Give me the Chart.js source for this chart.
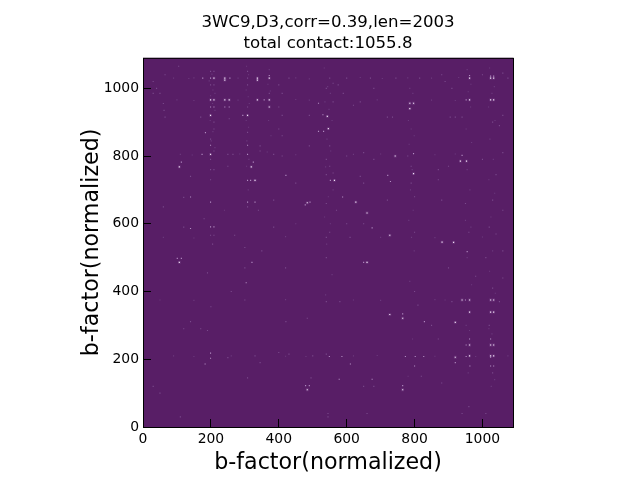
<!DOCTYPE html>
<html lang="en">
<head>
<meta charset="UTF-8">
<title>3WC9 contact map</title>
<style>
  body { margin: 0; background: #fff; }
  canvas { display: block; }
</style>
</head>
<body>
<canvas id="chart" width="640" height="480"></canvas>
<script src="https://cdn.jsdelivr.net/npm/chart.js"></script>
<script>
// cells, [x, y] in residue index, split by brightness
const brightCells = [
  [209,1030],[241,1030],[241,1024],[337,1030],[337,1024],[372,1030],[209,966],[199,966],[241,966],[254,966],
  [337,966],[372,966],[372,945],[199,920],[308,920],[543,917],[546,881],[199,805],[107,768],[319,768],[330,728],
  [484,662],[962,1030],[1024,1030],[1033,1030],[962,966],[1024,966],[1033,966],[786,956],[797,956],[786,940],
  [743,800],[935,785],[953,785],[797,748],[564,728],[627,664],[660,632],[727,566],[881,546],[915,545],[660,486],
  [940,375],[962,375],[1024,375],[1033,375],[962,339],[1024,339],[1033,339],[727,332],[765,321],[920,309],
  [962,242],[1024,242],[1033,242],[962,210],[920,206],[1024,210],[1033,210],[765,110],[107,486],[484,110]
];
const midCells = [
  [176,1030],[199,1030],[256,1030],[372,1038],[209,945],[199,945],[241,945],[254,945],[357,966],[294,920],[530,922],
  [532,873],[517,873],[184,869],[199,832],[308,832],[174,805],[308,805],[113,782],[325,782],[421,743],[308,728],
  [317,728],[140,679],[330,664],[308,664],[199,664],[492,664],[478,656],[199,591],[209,591],[140,586],[517,956],
  [962,1038],[1024,1036],[1033,1036],[952,966],[797,807],[940,802],[721,743],[729,725],[552,728],[588,679],[675,588],
  [955,518],[650,486],[950,375],[765,334],[829,311],[962,260],[952,242],[1024,260],[952,208],[1024,206],[800,180],
  [1024,180],[1033,180],[578,141],[675,141],[549,208],[586,208],[802,208],[773,208],[827,208],[611,186],[765,122],
  [113,498],[101,498],[321,486],[304,426],[199,218],[199,203],[183,186],[490,122],[479,122],[963,180],[920,190]
];
const faintCells = [
  [199,1050],[209,1050],[209,1010],[199,1010],[308,1050],[308,1030],[308,1010],[30,1020],[65,1040],[105,1065],
  [40,1000],[30,985],[50,985],[430,1030],[400,1010],[410,985],[372,985],[540,1000],[550,1030],[560,1015],[600,1030],
  [575,1010],[590,985],[670,1030],[680,1000],[745,1030],[815,1030],[880,1040],[890,1020],[910,1000],[1000,1040],
  [1060,1045],[1075,1030],[60,955],[62,935],[65,915],[170,915],[209,900],[254,910],[308,945],[400,945],[410,920],
  [490,920],[560,960],[620,950],[640,960],[720,915],[735,915],[905,915],[920,915],[940,915],[1060,920],[1030,900],
  [1050,890],[209,880],[308,870],[400,880],[410,860],[199,850],[209,815],[199,790],[250,805],[265,805],[345,830],
  [345,815],[385,805],[410,800],[490,830],[550,830],[540,790],[550,770],[600,800],[650,810],[680,790],[780,800],
  [790,770],[870,760],[900,770],[1000,790],[1060,810],[199,760],[209,760],[250,770],[140,740],[199,730],[450,720],
  [540,745],[560,750],[640,740],[650,720],[790,720],[870,730],[1040,745],[60,650],[120,678],[308,650],[340,640],
  [385,670],[540,660],[570,640],[720,670],[800,680],[880,670],[950,660],[1030,670],[1060,640],[180,615],[120,590],
  [199,566],[209,566],[270,566],[385,590],[540,560],[550,575],[600,600],[610,560],[650,600],[800,575],[960,575],
  [1020,590],[1040,570],[205,540],[300,530],[1060,520],[1010,500],[300,470],[350,520],[420,470],[540,500],[900,470],
  [980,445],[1060,440],[260,400],[140,311],[120,290],[170,290],[190,285],[421,311],[484,321],[300,375],[200,355],
  [540,370],[580,370],[800,400],[810,360],[910,370],[1030,410],[1020,300],[1050,370],[850,300],[870,260],[190,455],
  [250,205],[330,210],[345,190],[308,145],[495,145],[30,120],[50,100],[400,220],[430,215],[500,210],[540,215],
  [650,120],[680,120],[820,150],[880,130],[960,60],[1010,40],[545,40],[660,40],[110,30],[545,30],[940,40],[1030,160]
];
// barely visible texture along the stripes
const dimCells = [
  [203,1042],[195,1022],[206,995],[212,985],[199,978],[205,955],[212,935],[198,905],[206,872],[201,845],[212,825],
  [305,1065],[311,1040],[304,995],[310,975],[313,955],[304,905],[311,885],[306,845],[312,790],[305,770],[310,700],
  [372,1055],[368,1012],[375,992],[370,905],[377,860],[366,812],[534,1060],[544,1005],[552,985],[536,960],[548,938],
  [557,905],[542,850],[553,815],[538,768],[560,700],[546,680],[535,620],[552,600],[541,540],[557,450],[538,390],
  [786,1000],[795,985],[782,905],[790,880],[799,860],[784,835],[793,760],[788,700],[796,640],[783,610],[791,560],
  [799,520],[786,430],[794,260],[781,150],[955,1055],[966,1012],[958,990],[965,945],[952,880],[968,840],[955,760],
  [963,700],[950,610],[966,590],[955,500],[968,420],[952,300],[962,285],[958,160],[1021,1060],[1035,1005],[1028,985],
  [1018,945],[1037,905],[1022,850],[1032,790],[1019,730],[1036,690],[1025,620],[1030,520],[1021,460],[1038,395],
  [1019,290],[1028,275],[1036,140],[1026,120],[90,1030],[135,1029],[150,1031],[280,1030],[450,1031],[490,1028],
  [640,1032],[705,1029],[780,1031],[850,1030],[930,1032],[100,966],[150,964],[280,965],[450,967],[490,965],[690,966],
  [850,965],[920,964],[110,805],[145,803],[285,806],[450,804],[620,805],[700,806],[860,804],[920,806],[60,560],[150,558],
  [420,562],[700,560],[860,559],[1000,561],[50,375],[150,374],[420,376],[620,375],[700,374],[860,376],[890,375],
  [90,210],[150,208],[260,210],[420,209],[480,208],[620,210],[690,211],[860,209],[980,208],[1075,210],[240,640],[450,600]
];
const xTitle = 'b-factor(normalized)';
const yTitle = 'b-factor(normalized)';
const titleLines = ['3WC9,D3,corr=0.39,len=2003', 'total contact:1055.8'];
const axisMax = 1090;
const tickStep = 200;

function toPoints(cells) {
  return cells.map(c => ({ x: c[0], y: c[1] }));
}

function cellSet(cells, color, radius) {
  return {
    data: toPoints(cells),
    backgroundColor: color,
    borderWidth: 0,
    pointStyle: 'rect',
    pointRadius: radius,
    pointHoverRadius: radius
  };
}

// dark purple matrix background and the black frame
const framePlugin = {
  id: 'frame',
  beforeDatasetsDraw(chart) {
    const a = chart.chartArea, ctx = chart.ctx;
    ctx.save();
    ctx.fillStyle = '#581e66';
    ctx.fillRect(a.left, a.top, a.right - a.left, a.bottom - a.top);
    ctx.restore();
  },
  afterDraw(chart) {
    const a = chart.chartArea, ctx = chart.ctx;
    ctx.save();
    ctx.strokeStyle = '#000';
    ctx.lineWidth = 1;
    ctx.strokeRect(a.left + 0.5, a.top + 0.5, a.right - a.left, a.bottom - a.top);
    ctx.restore();
  }
};

function axis(title, titlePadding, fitFn) {
  return {
    type: 'linear',
    min: 0,
    max: axisMax,
    afterFit: fitFn,
    border: { display: false },
    grid: { drawOnChartArea: false, tickLength: -8, tickColor: '#000', tickWidth: 1, z: 1 },
    ticks: {
      stepSize: tickStep,
      includeBounds: false,
      padding: 12,
      autoSkip: false,
      maxRotation: 0,
      color: '#000',
      font: { family: 'DejaVu Sans', size: 13.9 },
      callback: v => String(v)
    },
    title: {
      display: true,
      text: title,
      color: '#000',
      padding: titlePadding,
      font: { family: 'DejaVu Sans', size: 22.2 }
    }
  };
}

new Chart(document.getElementById('chart'), {
  type: 'scatter',
  data: {
    datasets: [
      cellSet(dimCells, '#6c3a7e', 0.8),
      cellSet(faintCells, '#7a4a8c', 0.8),
      cellSet(brightCells, 'rgba(190,150,210,0.18)', 2),
      cellSet(midCells, 'rgba(200,168,216,0.8)', 0.8),
      cellSet(brightCells, '#fff4ff', 0.8)
    ]
  },
  options: {
    responsive: false,
    animation: false,
    devicePixelRatio: 1,
    layout: { padding: { left: 0, right: 127, top: 0, bottom: 0 } },
    plugins: {
      legend: { display: false },
      tooltip: { enabled: false },
      title: {
        display: true,
        fullSize: false,
        text: titleLines,
        color: '#000',
        font: { family: 'DejaVu Sans', size: 16.6, weight: 'normal', lineHeight: 1.26 },
        padding: { top: 12, bottom: 4 }
      }
    },
    scales: {
      x: axis(xTitle, { top: 6, bottom: 3 }, s => { s.height = 53; }),
      y: axis(yTitle, { top: 79, bottom: 6 }, s => { s.width = 143; })
    }
  },
  plugins: [framePlugin]
});
</script>
</body>
</html>
